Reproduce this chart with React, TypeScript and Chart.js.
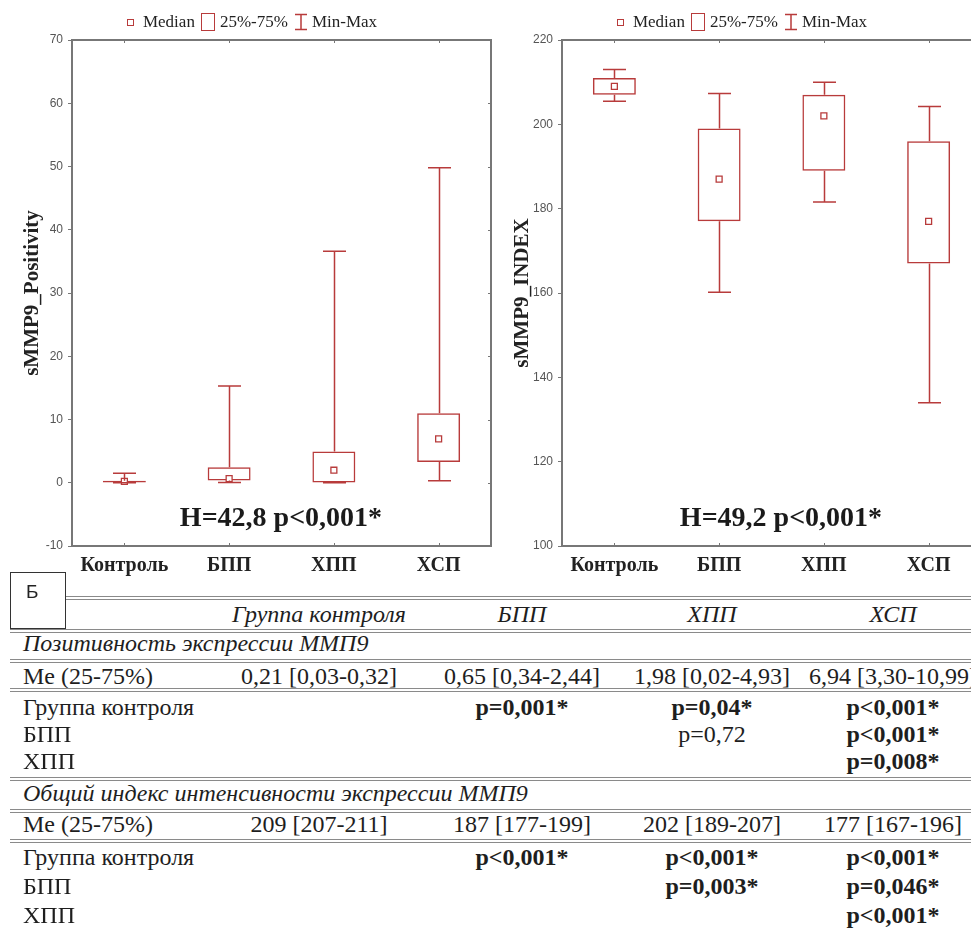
import React, { useEffect, useRef } from "react";
import { Chart, registerables } from "chart.js";

Chart.register(...registerables);

// ---------- DATA ----------
const categories = ["Контроль", "БПП", "ХПП", "ХСП"];

// sMMP9_Positivity
const posMin = [0, 0.05, 0, 0.3];
const posQ1 = [0.03, 0.34, 0.02, 3.3];
const posMedian = [0.21, 0.65, 1.98, 6.94];
const posQ3 = [0.32, 2.44, 4.93, 10.99];
const posMax = [1.5, 15.3, 36.6, 49.8];

// sMMP9_INDEX
const idxMin = [205.5, 160.2, 181.6, 134];
const idxQ1 = [207, 177, 189, 167];
const idxMedian = [209, 187, 202, 177];
const idxQ3 = [211, 199, 207, 196];
const idxMax = [213, 207.3, 210, 204.2];

const legendLabels = ["Median", "25%-75%", "Min-Max"];
const posStat = "H=42,8 p<0,001*";
const idxStat = "H=49,2 p<0,001*";

// table
const tableTag = "Б";
const groupHeaders = ["Группа контроля", "БПП", "ХПП", "ХСП"];
const rowLabels = ["Группа контроля", "БПП", "ХПП"];
const meLabel = "Me (25-75%)";
const sec1Title = "Позитивность экспрессии ММП9";
const sec1Me = ["0,21 [0,03-0,32]", "0,65 [0,34-2,44]", "1,98 [0,02-4,93]", "6,94 [3,30-10,99]"];
const sec1P = [
  ["", "p=0,001*", "p=0,04*", "p<0,001*"],
  ["", "", "p=0,72", "p<0,001*"],
  ["", "", "", "p=0,008*"],
];
const sec2Title = "Общий индекс интенсивности экспрессии ММП9";
const sec2Me = ["209 [207-211]", "187 [177-199]", "202 [189-207]", "177 [167-196]"];
const sec2P = [
  ["", "p<0,001*", "p<0,001*", "p<0,001*"],
  ["", "", "p=0,003*", "p=0,046*"],
  ["", "", "", "p<0,001*"],
];

// ---------- STYLE ----------
const RED = "#b83b3b";
const AXIS = "#777";
const SERIF = '"Liberation Serif", "Times New Roman", serif';
const SANS = '"Liberation Sans", Arial, sans-serif';

type BoxProps = {
  left: number;
  mins: number[];
  q1: number[];
  med: number[];
  q3: number[];
  maxs: number[];
  yMin: number;
  yMax: number;
  step: number;
  title: string;
  drawRight: boolean;
  frameColor: string;
};

function BoxChart(p: BoxProps) {
  const ref = useRef<HTMLCanvasElement>(null);
  useEffect(() => {
    if (!ref.current) return;
    const whiskers = {
      id: "whiskers",
      afterDatasetsDraw(chart: any) {
        const { ctx } = chart;
        const x = chart.scales.x;
        const y = chart.scales.y;
        const cap = 23;
        ctx.save();
        ctx.strokeStyle = RED;
        ctx.lineWidth = 1.5;
        p.mins.forEach((mn, i) => {
          const px = Math.round(x.getPixelForValue(i)) + 0.5;
          const yMn = y.getPixelForValue(mn);
          const yQ1 = y.getPixelForValue(p.q1[i]);
          const yQ3 = y.getPixelForValue(p.q3[i]);
          const yMx = y.getPixelForValue(p.maxs[i]);
          ctx.beginPath();
          ctx.moveTo(px, yQ3);
          ctx.lineTo(px, yMx);
          ctx.moveTo(px - cap / 2, yMx);
          ctx.lineTo(px + cap / 2, yMx);
          ctx.moveTo(px, yQ1);
          ctx.lineTo(px, yMn);
          ctx.moveTo(px - cap / 2, yMn);
          ctx.lineTo(px + cap / 2, yMn);
          ctx.stroke();
        });
        ctx.restore();
      },
    };
    const frame = {
      id: "frame",
      afterDraw(chart: any) {
        const { ctx, chartArea: a } = chart;
        const x = chart.scales.x;
        const y = chart.scales.y;
        ctx.save();
        ctx.strokeStyle = p.frameColor;
        ctx.lineWidth = 2;
        ctx.beginPath();
        ctx.moveTo(a.left, a.top);
        ctx.lineTo(a.right, a.top);
        ctx.moveTo(a.left, a.top - 1);
        ctx.lineTo(a.left, a.bottom + 1);
        ctx.moveTo(a.left, a.bottom);
        ctx.lineTo(a.right, a.bottom);
        if (p.drawRight) {
          ctx.moveTo(a.right, a.top - 1);
          ctx.lineTo(a.right, a.bottom + 1);
        }
        ctx.stroke();
        ctx.lineWidth = 1;
        ctx.beginPath();
        for (let i = 0; i < categories.length; i++) {
          const px = Math.round(x.getPixelForValue(i)) + 0.5;
          ctx.moveTo(px, a.top);
          ctx.lineTo(px, a.top + 3);
          ctx.moveTo(px, a.bottom);
          ctx.lineTo(px, a.bottom - 3);
        }
        if (p.drawRight) {
          y.ticks.forEach((t: any) => {
            const py = Math.round(y.getPixelForValue(t.value)) + 0.5;
            ctx.moveTo(a.right, py);
            ctx.lineTo(a.right - 3, py);
          });
        }
        ctx.stroke();
        ctx.restore();
      },
    };
    const chart = new Chart(ref.current, {
      type: "bar",
      data: {
        labels: categories,
        datasets: [
          {
            type: "line",
            label: "Median",
            data: p.med,
            showLine: false,
            pointStyle: "rect",
            pointRadius: 4.2,
            pointBorderWidth: 1.3,
            pointBorderColor: RED,
            pointBackgroundColor: "#fff",
          } as any,
          {
            type: "bar",
            label: "25%-75%",
            data: p.q1.map((v, i) => [v, p.q3[i]]),
            backgroundColor: "rgba(255,255,255,0)",
            borderColor: RED,
            borderWidth: 1.5,
            borderSkipped: false,
            barPercentage: 0.41,
            categoryPercentage: 1,
          } as any,
        ],
      },
      options: {
        animation: false,
        responsive: false,
        layout: { padding: { top: 40, right: 9, bottom: 0, left: 0 } },
        plugins: { legend: { display: false }, tooltip: { enabled: false } },
        scales: {
          x: {
            type: "category",
            offset: true,
            grid: { display: false, offset: false },
            border: { display: false },
            ticks: { font: { family: SERIF, weight: "bold", size: 20 }, color: "#222", padding: 0 },
            afterFit: (s: any) => {
              s.height = 34;
            },
          },
          y: {
            min: p.yMin,
            max: p.yMax,
            ticks: { stepSize: p.step, font: { family: SANS, size: 12 }, color: "#555", padding: 5 },
            grid: { display: true, drawOnChartArea: false, drawTicks: true, tickLength: 4, color: AXIS },
            border: { display: false },
            title: {
              display: true,
              text: p.title,
              font: { family: SERIF, weight: "bold", size: 21 },
              color: "#222",
              padding: { top: 20, bottom: 0 },
            },
            afterFit: (s: any) => {
              s.width = 72;
            },
          },
        },
      } as any,
      plugins: [whiskers, frame],
    });
    return () => chart.destroy();
  }, []);
  return (
    <canvas
      ref={ref}
      width={500}
      height={580}
      style={{ position: "absolute", left: p.left, top: 0, width: 500, height: 580 }}
    />
  );
}

function Legend({ center }: { center: number }) {
  return (
    <div
      style={{
        position: "absolute",
        top: 12,
        left: center - 160,
        width: 320,
        textAlign: "center",
        font: `17px ${SERIF}`,
        color: "#222",
        whiteSpace: "nowrap",
        lineHeight: "20px",
      }}
    >
      <span
        style={{
          display: "inline-block",
          width: 5,
          height: 5,
          border: `1px solid ${RED}`,
          marginRight: 9,
          verticalAlign: "middle",
          position: "relative",
          top: -1,
        }}
      />
      {legendLabels[0]}
      <span
        style={{
          display: "inline-block",
          width: 12,
          height: 16,
          border: `1.5px solid ${RED}`,
          margin: "0 5px 0 6px",
          verticalAlign: "middle",
          position: "relative",
          top: -1,
        }}
      />
      {legendLabels[1]}
      <svg width="14" height="18" style={{ verticalAlign: "middle", margin: "0 4px 0 6px", position: "relative", top: -1 }}>
        <path d="M1 1.5 H13 M7 1.5 V16.5 M1 16.5 H13" stroke={RED} strokeWidth="1.5" fill="none" />
      </svg>
      {legendLabels[2]}
    </div>
  );
}

function Stat({ center, text }: { center: number; text: string }) {
  return (
    <div
      style={{
        position: "absolute",
        left: center - 160,
        width: 320,
        top: 502,
        textAlign: "center",
        font: `bold 28px ${SERIF}`,
        lineHeight: "30px",
        color: "#1a1a1a",
        whiteSpace: "nowrap",
      }}
    >
      {text}
    </div>
  );
}

const colCenters = [319, 522, 712, 893];
const LH = 26;

function Cell({ cx, cy, text, italic, bold, left }: any) {
  const style: any = {
    position: "absolute",
    top: cy - LH / 2,
    lineHeight: `${LH}px`,
    font: `${italic ? "italic " : ""}${bold ? "bold " : ""}24px ${SERIF}`,
    color: "#1e1e1e",
    whiteSpace: "nowrap",
  };
  if (left !== undefined) {
    style.left = left;
  } else {
    style.left = cx - 150;
    style.width = 300;
    style.textAlign = "center";
  }
  return <div style={style}>{text}</div>;
}

function DLine({ y, x0 }: { y: number; x0: number }) {
  return (
    <div
      style={{
        position: "absolute",
        left: x0,
        top: y,
        width: 971 - x0,
        height: 2,
        borderTop: "1px solid #8a8a8a",
        borderBottom: "1px solid #8a8a8a",
      }}
    />
  );
}

function Table() {
  const rows1 = [707, 734, 761];
  const rows2 = [857, 886, 915];
  const out: any[] = [];
  out.push(
    <div
      key="tag"
      style={{
        position: "absolute",
        left: 10,
        top: 572,
        width: 56,
        height: 57,
        boxSizing: "border-box",
        border: "1.5px solid #333",
      }}
    >
      <div style={{ position: "absolute", left: 15, top: 8, font: `19px ${SANS}`, color: "#222" }}>{tableTag}</div>
    </div>
  );
  out.push(<DLine key="l0" y={596} x0={66} />);
  groupHeaders.forEach((h, i) => out.push(<Cell key={"h" + i} cx={colCenters[i]} cy={614} text={h} italic />));
  out.push(<DLine key="l1" y={629} x0={10} />);
  out.push(<Cell key="s1" left={23} cy={643} text={sec1Title} italic />);
  out.push(<DLine key="l2" y={659} x0={10} />);
  out.push(<Cell key="m1" left={23} cy={676} text={meLabel} />);
  sec1Me.forEach((t, i) => out.push(<Cell key={"m1" + i} cx={colCenters[i]} cy={676} text={t} />));
  out.push(<DLine key="l3" y={688} x0={10} />);
  rowLabels.forEach((r, ri) => {
    out.push(<Cell key={"r1" + ri} left={23} cy={rows1[ri]} text={r} />);
    sec1P[ri].forEach((t, ci) =>
      t ? out.push(<Cell key={"p1" + ri + ci} cx={colCenters[ci]} cy={rows1[ri]} text={t} bold={t.endsWith("*")} />) : null
    );
  });
  out.push(<DLine key="l4" y={777} x0={10} />);
  out.push(<Cell key="s2" left={23} cy={793} text={sec2Title} italic />);
  out.push(<DLine key="l5" y={809} x0={10} />);
  out.push(<Cell key="m2" left={23} cy={824} text={meLabel} />);
  sec2Me.forEach((t, i) => out.push(<Cell key={"m2" + i} cx={colCenters[i]} cy={824} text={t} />));
  out.push(<DLine key="l6" y={839} x0={10} />);
  rowLabels.forEach((r, ri) => {
    out.push(<Cell key={"r2" + ri} left={23} cy={rows2[ri]} text={r} />);
    sec2P[ri].forEach((t, ci) =>
      t ? out.push(<Cell key={"p2" + ri + ci} cx={colCenters[ci]} cy={rows2[ri]} text={t} bold={t.endsWith("*")} />) : null
    );
  });
  return <>{out}</>;
}

export default function App() {
  return (
    <div
      style={{
        position: "fixed",
        left: 0,
        top: 0,
        width: 971,
        height: 932,
        overflow: "hidden",
        background: "#fff",
      }}
    >
      <BoxChart
        left={0}
        mins={posMin}
        q1={posQ1}
        med={posMedian}
        q3={posQ3}
        maxs={posMax}
        yMin={-10}
        yMax={70}
        step={10}
        title="sMMP9_Positivity"
        drawRight={true}
        frameColor={AXIS}
      />
      <BoxChart
        left={490}
        mins={idxMin}
        q1={idxQ1}
        med={idxMedian}
        q3={idxQ3}
        maxs={idxMax}
        yMin={100}
        yMax={220}
        step={20}
        title="sMMP9_INDEX"
        drawRight={false}
        frameColor={AXIS}
      />
      <Legend center={252} />
      <Legend center={742} />
      <Stat center={281} text={posStat} />
      <Stat center={781} text={idxStat} />
      <Table />
    </div>
  );
}
